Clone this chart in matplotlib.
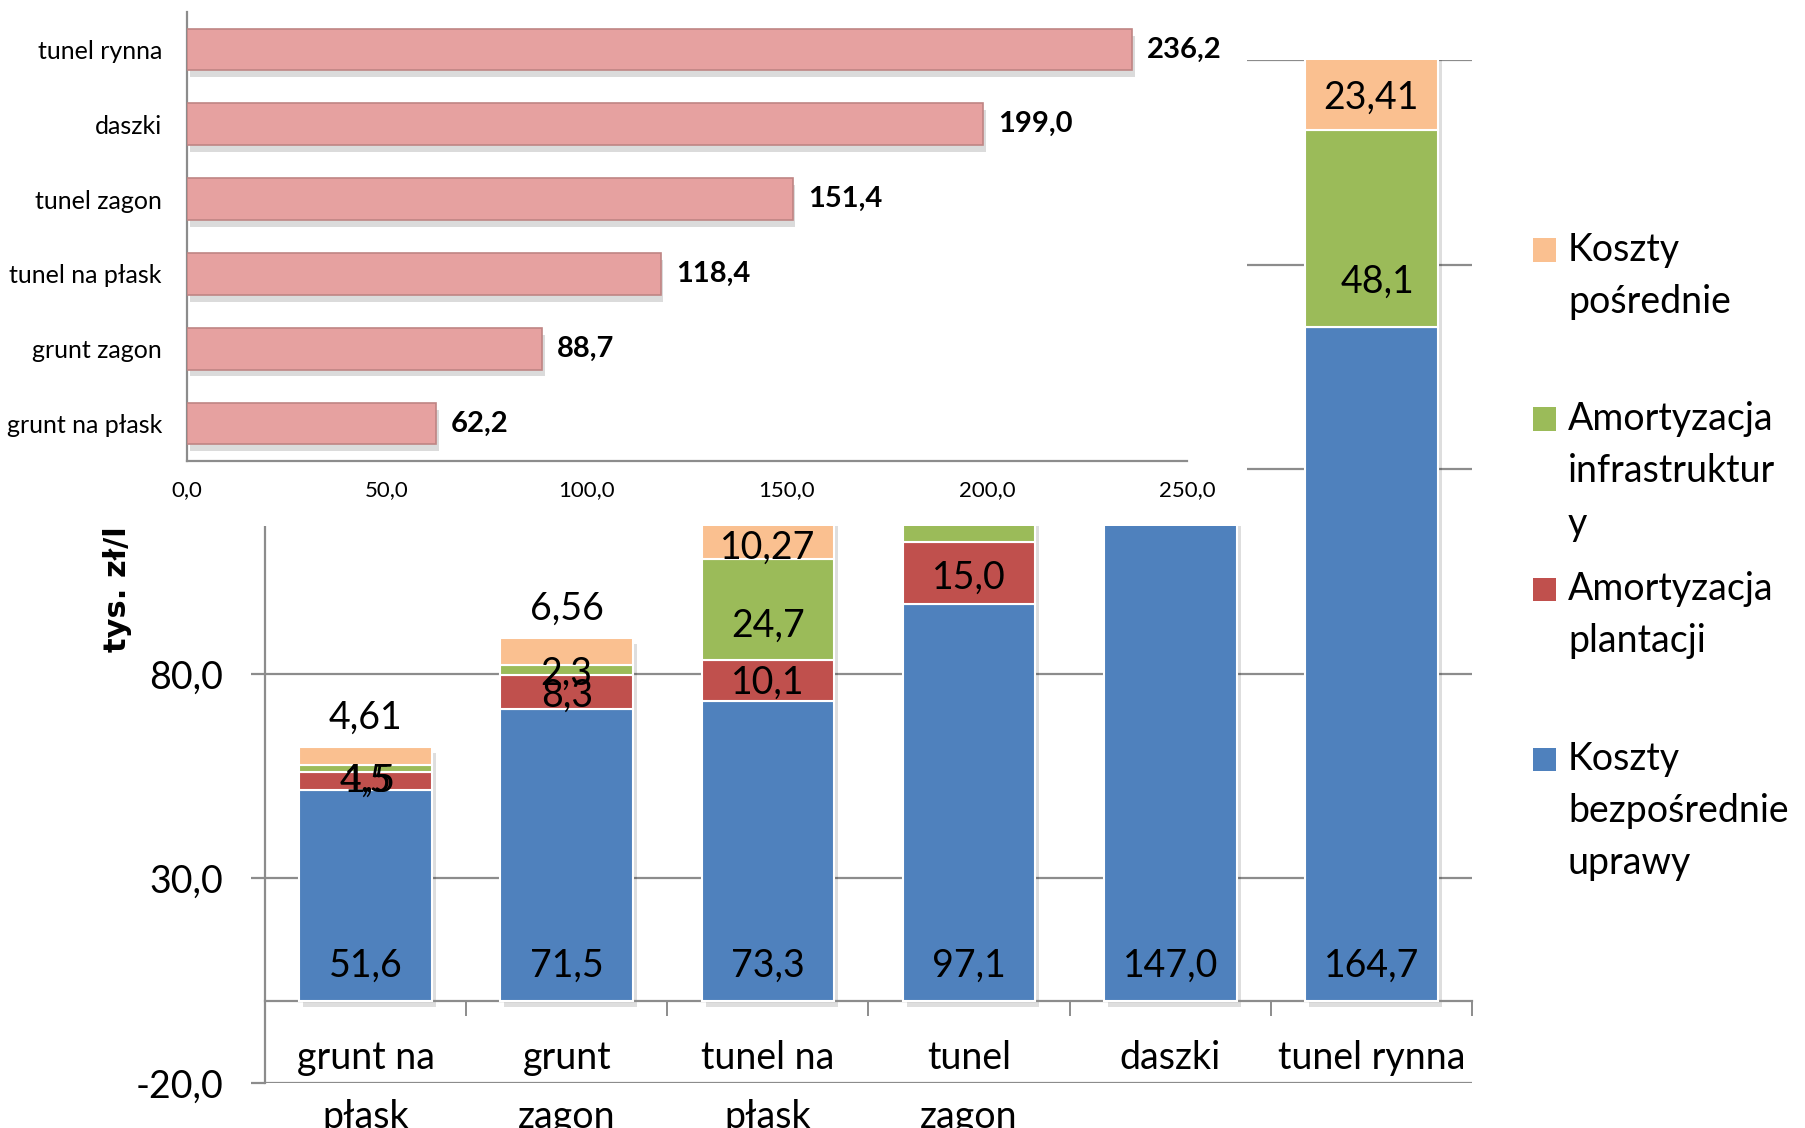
import matplotlib
matplotlib.use('Agg')
import matplotlib.pyplot as plt
import matplotlib.patheffects as pe
from matplotlib.patches import Rectangle
from matplotlib.transforms import ScaledTranslation
import numpy as np

plt.rcParams['font.family'] = ['Lato', 'DejaVu Sans']

# ---------------- data ----------------
categories = ['grunt na\npłask', 'grunt\nzagon', 'tunel na\npłask', 'tunel\nzagon', 'daszki', 'tunel rynna']
series_names = ['Koszty\nbezpośrednie\nuprawy', 'Amortyzacja\nplantacji',
                'Amortyzacja\ninfrastruktur\ny', 'Koszty\npośrednie']
koszty_bezposrednie = [51.6, 71.5, 73.3, 97.1, 147.0, 164.7]
amort_plantacji = [4.5, 8.3, 10.1, 15.0, 0.0, 0.0]
amort_infrastruktury = [1.5, 2.3, 24.7, 25.0, 34.0, 48.1]
koszty_posrednie = [4.61, 6.56, 10.27, 14.3, 18.0, 23.41]

inset_categories = ['grunt na płask', 'grunt zagon', 'tunel na płask', 'tunel zagon', 'daszki', 'tunel rynna']
inset_totals = [62.2, 88.7, 118.4, 151.4, 199.0, 236.2]

y_ticks = [-20, 30, 80, 130, 180, 230]
inset_x_ticks = [0, 50, 100, 150, 200, 250]

# ---------------- layout helpers ----------------
W, H = 1806, 1128
fig = plt.figure(figsize=(W / 100, H / 100), dpi=100)


def fx(px):
    return px / W


def fy(py):
    return 1 - py / H


colors = ['#4F81BD', '#C0504D', '#9BBB59', '#FAC090']
grid_c = '#8C8C8C'
FS = 27

# ---------------- main stacked chart ----------------
ax = fig.add_axes([fx(265), fy(1083), fx(1472) - fx(265), fy(60) - fy(1083)])
x = np.arange(len(categories))
series = [koszty_bezposrednie, amort_plantacji, amort_infrastruktury, koszty_posrednie]
totals = np.sum(np.array(series), axis=0)
bw = 0.66

shadow = ax.bar(x, totals, width=bw, color='black', alpha=0.13, zorder=2, linewidth=0)
off = ScaledTranslation(4 / 100, -6 / 100, fig.dpi_scale_trans)
for b in shadow:
    b.set_transform(ax.transData + off)

bottoms = np.zeros(len(categories))
seg_bars = []
for vals, c in zip(series, colors):
    ax.bar(x, vals, bottom=bottoms, width=bw, color=c, edgecolor='white',
           linewidth=1.5, zorder=3)
    seg_bars.append((np.array(vals), bottoms.copy()))
    bottoms = bottoms + np.array(vals)

ax.set_xlim(-0.5, len(categories) - 0.5)
ax.set_ylim(y_ticks[0], y_ticks[-1])
ax.set_axisbelow(True)
ax.yaxis.grid(True, color=grid_c, linewidth=1.6)
ax.set_yticks(y_ticks)
ax.set_yticklabels([f"{v:.1f}".replace('.', ',') for v in y_ticks], fontsize=FS)
ax.tick_params(axis='y', length=10, width=1.6, color=grid_c, pad=20)

for s in ['top', 'right']:
    ax.spines[s].set_visible(False)
ax.spines['left'].set_color(grid_c)
ax.spines['left'].set_linewidth(1.6)
ax.spines['bottom'].set_position(('data', 0))
ax.spines['bottom'].set_color(grid_c)
ax.spines['bottom'].set_linewidth(1.6)

ax.set_xticks(np.arange(len(categories) + 1) - 0.5)
ax.set_xticklabels([''] * (len(categories) + 1))
ax.tick_params(axis='x', which='major', length=11, width=1.4, color=grid_c, direction='out')
ax.set_xticks(x, minor=True)
ax.set_xticklabels(categories, minor=True, fontsize=FS, linespacing=1.8)
ax.tick_params(axis='x', which='minor', length=0, pad=28)


def fmt(v, nd):
    return f"{v:.{nd}f}".replace('.', ',')


# data labels (label positions: segment centres unless noted)
label_pos = {
    (3, 1): 103.5,
    (0, 1): 53.9, (0, 2): 53.9, (0, 3): 69.3,
    (1, 1): 74.7, (1, 2): 80.0, (1, 3): 96.0,
    (2, 1): 77.9, (2, 2): 91.8, (2, 3): 110.9,
    (5, 2): 175.7, (5, 3): 220.9,
}
label_dx = {(0, 2): 0.02, (5, 2): 0.03}
show = {
    0: [0, 1, 2, 3, 4, 5],
    1: [0, 1, 2, 3],
    2: [0, 1, 2, 5],
    3: [0, 1, 2, 5],
}
decimals = [1, 1, 1, 2]
for si, (vals, bots) in enumerate(seg_bars):
    for ci in show[si]:
        if si == 0:
            yv = 8.6
        else:
            yv = label_pos.get((ci, si), bots[ci] + vals[ci] / 2)
        ax.text(x[ci] + label_dx.get((ci, si), 0), yv, fmt(vals[ci], decimals[si]),
                ha='center', va='center', fontsize=FS, color='black', zorder=5)

# white cover under the inset chart
cover = Rectangle((0, fy(526)), fx(1247), 1 - fy(526), transform=fig.transFigure,
                  facecolor='white', edgecolor='none', zorder=20, clip_on=False)
ax.add_patch(cover)

fig.text(fx(118), fy(589), 'tys. zł/l', rotation=90, ha='center', va='center',
         fontsize=22, fontweight='bold', family='DejaVu Sans')

# legend
legend_lines = {
    3: [250, 302],
    2: [419, 471, 524],
    1: [589, 641],
    0: [759, 811, 863],
}
for si in [3, 2, 1, 0]:
    ys = legend_lines[si]
    fig.patches.append(Rectangle((fx(1533), fy(ys[0] + 11.5)), fx(23), 23 / H,
                                 transform=fig.transFigure, facecolor=colors[si],
                                 edgecolor='none'))
    for line, yy in zip(series_names[si].split('\n'), ys):
        fig.text(fx(1568), fy(yy), line, ha='left', va='center', fontsize=FS)

# ---------------- inset horizontal bar chart ----------------
ax2 = fig.add_axes([fx(187), fy(461), fx(1187) - fx(187), fy(12) - fy(461)])
ax2.set_facecolor('none')
yi = np.arange(len(inset_categories))
hb = ax2.barh(yi, inset_totals, height=0.555, color='#E6A1A0', edgecolor='#BF8584',
              linewidth=1.2, zorder=3)
for b in hb:
    b.set_path_effects([pe.SimplePatchShadow(offset=(2, -5), shadow_rgbFace='#9a9a9a', alpha=0.35),
                        pe.Normal()])
for yv, v in zip(yi, inset_totals):
    ax2.annotate(fmt(v, 1), (v, yv), xytext=(11, 0), textcoords='offset points',
                 ha='left', va='center', fontsize=21, fontweight='bold')
ax2.set_xlim(inset_x_ticks[0], inset_x_ticks[-1])
ax2.set_ylim(-0.5, len(inset_categories) - 0.5)
ax2.set_xticks(inset_x_ticks)
ax2.set_xticklabels([fmt(v, 1) for v in inset_x_ticks], fontsize=16)
ax2.set_yticks(yi)
ax2.set_yticklabels(inset_categories, fontsize=18)
ax2.tick_params(axis='x', length=0, pad=14)
ax2.tick_params(axis='y', length=0, pad=18)
for s in ['top', 'right']:
    ax2.spines[s].set_visible(False)
for s in ['left', 'bottom']:
    ax2.spines[s].set_color(grid_c)
    ax2.spines[s].set_linewidth(1.6)

fig.savefig('out.png', dpi=100, facecolor='white')
